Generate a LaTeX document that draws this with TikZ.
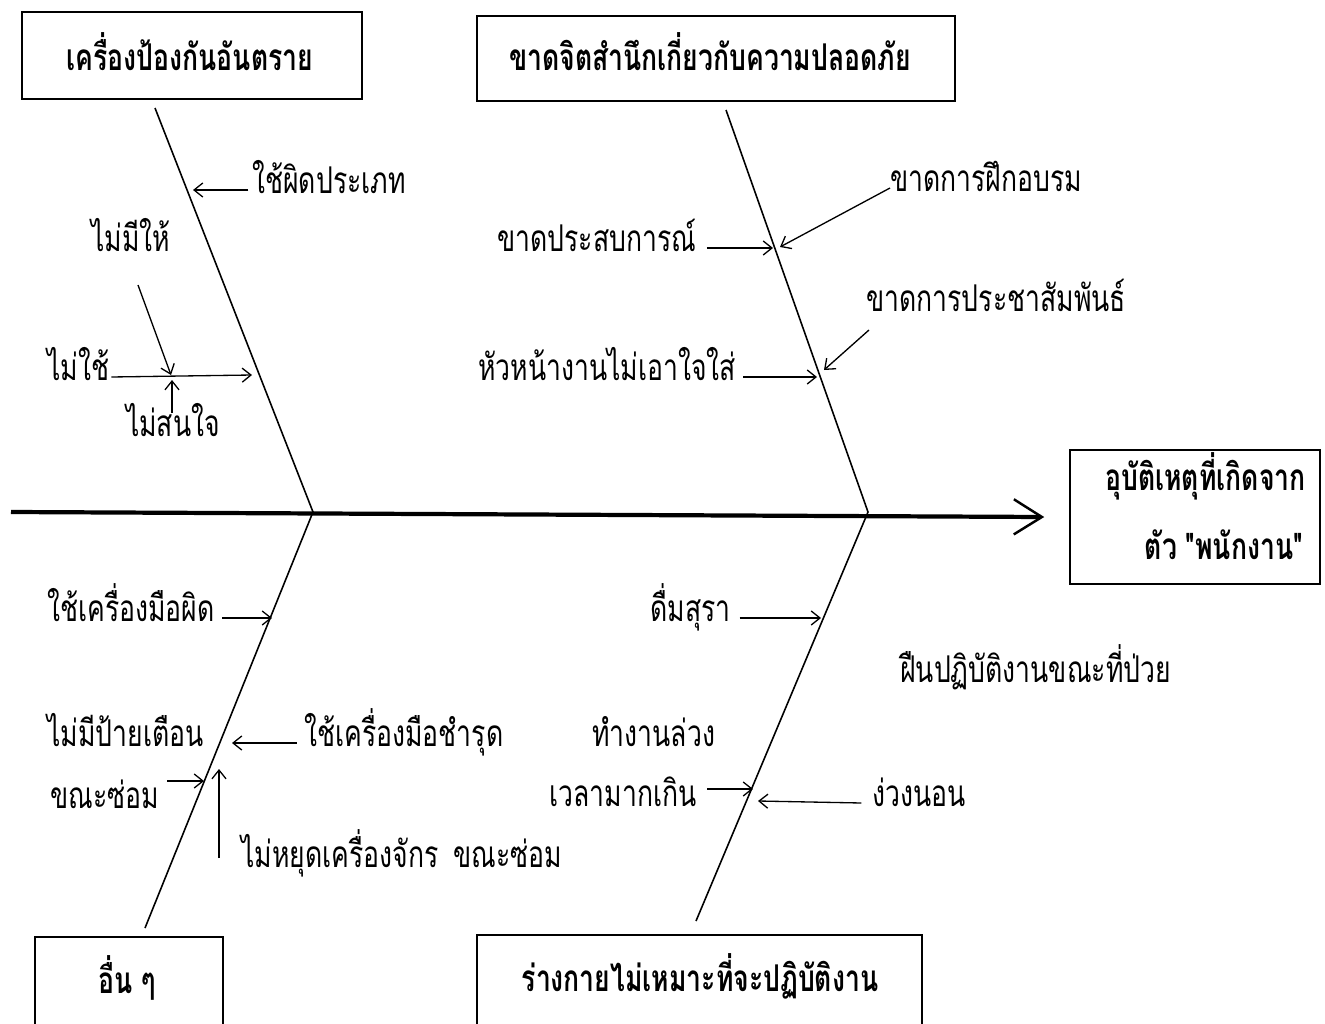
\documentclass[tikz,border=0pt]{standalone}
\usepackage{fontspec}
\newfontfamily\thai[Script=Thai,FakeStretch=0.72]{Loma}
\usetikzlibrary{arrows.meta,calc}
\begin{document}
\begin{tikzpicture}[x=0.02cm,y=-0.02cm,
  lbl/.style={font=\thai\fontsize{21}{24}\selectfont, inner sep=0pt, anchor=mid west},
  ttl/.style={font=\thai\bfseries\fontsize{21}{24}\selectfont, inner sep=0pt, anchor=mid},
  frame/.style={draw, line width=0.9pt, inner sep=0pt},
  bone/.style={line width=0.9pt},
  arr/.style={line width=0.75pt, -{Straight Barb[length=5pt,width=8pt]}},
  spine/.style={line width=2.4pt, -{Straight Barb[length=16pt,width=20pt,line width=1.4pt]}}]
\useasboundingbox (0,0) rectangle (1325,1024);
\fill[white] (0,0) rectangle (1325,1024);

% category boxes
\node[frame, minimum width=6.8cm, minimum height=1.74cm] (b1) at (192,55.5) {};
\node[ttl] (t1) at (190,67) {เครื่องป้องกันอันตราย};
\node[frame, minimum width=9.56cm, minimum height=1.7cm] (b2) at (716,58.5) {};
\node[ttl] (t2) at (710,67) {ขาดจิตสำนึกเกี่ยวกับความปลอดภัย};
\node[frame, minimum width=5cm, minimum height=2.68cm] (hb) at (1195,517) {};
\node[ttl, anchor=mid east] (h1) at (1306,487) {อุบัติเหตุที่เกิดจาก};
\node[ttl, anchor=mid east] (h2) at (1303,556) {ตัว "พนักงาน"};
\draw[line width=0.9pt] (35,1024) -- (35,937) -- (223,937) -- (223,1024);
\node[ttl] (t3) at (127,990) {อื่น ๆ};
\draw[line width=0.9pt] (477,1024) -- (477,935) -- (922,935) -- (922,1024);
\node[ttl] (t4) at (700,988) {ร่างกายไม่เหมาะที่จะปฏิบัติงาน};

% spine and bones
\coordinate (s0) at (11,512);
\coordinate (jl) at (313,512);
\coordinate (jr) at (868,512);
\coordinate (tl) at (155,108);
\coordinate (tr) at (726,110);
\coordinate (bl) at (145,928);
\coordinate (br) at (696,921);
\draw[spine] (s0) -- ([xshift=-0.5cm]hb.west);
\draw[bone] (tl) -- (jl) -- (bl);
\draw[bone] (tr) -- (jr) -- (br);

% top-left
\node[lbl] (a1) at (252,190) {ใช้ผิดประเภท};
\coordinate (pa1) at (193,190);
\draw[arr] ([xshift=-2pt]a1.mid west) -- (pa1);
\node[lbl, anchor=mid] (a2) at (131,248) {ไม่มีให้};
\node[lbl] (a3) at (47,377) {ไม่ใช้};
\node[lbl, anchor=mid] (a4) at (173,433) {ไม่สนใจ};
\coordinate (ja) at (171,375);
\coordinate (ta2) at (138,285);
\coordinate (ta4) at (172,413);
\coordinate (pa3) at (252,375);
\draw[arr] (ta2) -- (ja);
\draw[arr] ([xshift=1pt]a3.mid east) -- (pa3);
\draw[arr] (ta4) -- (172,380);

% top-right
\node[lbl] (c1) at (890,188) {ขาดการฝึกอบรม};
\node[lbl] (c2) at (497,248) {ขาดประสบการณ์};
\node[lbl] (c3) at (866,308) {ขาดการประชาสัมพันธ์};
\node[lbl] (c4) at (478,377) {หัวหน้างานไม่เอาใจใส่};
\coordinate (pc1) at (780,247);
\coordinate (pc2) at (773,248);
\coordinate (tc3) at (869,330);
\coordinate (pc3) at (824,370);
\coordinate (pc4) at (817,377);
\draw[arr] (c1.mid west) -- (pc1);
\draw[arr] ([xshift=6pt]c2.mid east) -- (pc2);
\draw[arr] (tc3) -- (pc3);
\draw[arr] ([xshift=4pt]c4.mid east) -- (pc4);

% bottom-left
\node[lbl] (d1) at (47,618) {ใช้เครื่องมือผิด};
\node[lbl] (d2) at (47,743) {ไม่มีป้ายเตือน};
\node[lbl] (d3) at (304,743) {ใช้เครื่องมือชำรุด};
\node[lbl] (d4) at (50,805) {ขณะซ่อม};
\node[lbl] (d5) at (241,864) {ไม่หยุดเครื่องจักร\hspace{0.4em}ขณะซ่อม};
\coordinate (pd1) at (272,618);
\coordinate (pd3) at (232,743);
\coordinate (td4) at (167,781);
\coordinate (pd4) at (204,781);
\coordinate (td5) at (219,858);
\coordinate (pd5) at (219,769);
\draw[arr] ([xshift=4pt]d1.mid east) -- (pd1);
\draw[arr] ([xshift=-4pt]d3.mid west) -- (pd3);
\draw[arr] (td4) -- (pd4);
\draw[arr] (td5) -- (pd5);

% bottom-right
\node[lbl] (e1) at (650,618) {ดื่มสุรา};
\node[lbl] (e2) at (900,679) {ฝืนปฏิบัติงานขณะที่ป่วย};
\node[lbl] (e3) at (592,743) {ทำงานล่วง};
\node[lbl] (e4) at (549,803) {เวลามากเกิน};
\node[lbl] (e5) at (872,803) {ง่วงนอน};
\coordinate (pe1) at (821,618);
\coordinate (te4) at (707,789);
\coordinate (pe4) at (753,789);
\coordinate (pe5) at (758,801);
\draw[arr] ([xshift=5pt]e1.mid east) -- (pe1);
\draw[arr] (te4) -- (pe4);
\draw[arr] ([xshift=-6pt]e5.mid west) -- (pe5);
\end{tikzpicture}
\end{document}
